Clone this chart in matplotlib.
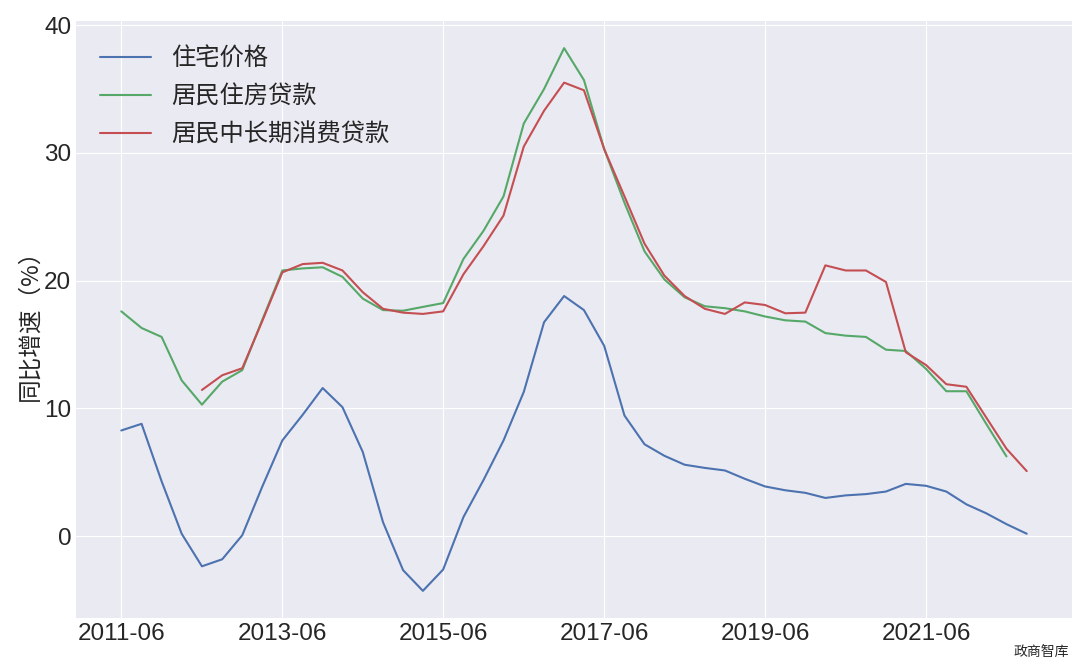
import matplotlib
matplotlib.use('Agg')
import matplotlib.pyplot as plt
import matplotlib.dates as mdates
import pandas as pd

# 季度数据，2011-06 至 2022-09
dates = pd.date_range('2011-06-01', periods=46, freq='3MS')

house_price = [8.28, 8.8, 4.3, 0.2, -2.35, -1.8, 0.08, 3.85, 7.5, 9.5,
               11.6, 10.1, 6.6, 1.1, -2.65, -4.27, -2.6, 1.5, 4.4, 7.5,
               11.3, 16.75, 18.8, 17.7, 14.9, 9.45, 7.2, 6.3, 5.6, 5.35,
               5.15, 4.5, 3.9, 3.6, 3.4, 3.0, 3.2, 3.3, 3.5, 4.1,
               3.95, 3.5, 2.5, 1.8, 0.95, 0.2]
# 居民住房贷款：到 2022-06
mortgage = [17.6, 16.3, 15.6, 12.2, 10.3, 12.1, 13.0, 16.9, 20.8, 20.96,
            21.05, 20.3, 18.6, 17.7, 17.65, 17.95, 18.25, 21.7, 23.9, 26.6,
            32.3, 35.0, 38.2, 35.7, 30.3, 26.1, 22.3, 20.1, 18.7, 18.0,
            17.85, 17.6, 17.2, 16.9, 16.8, 15.9, 15.7, 15.6, 14.6, 14.5,
            13.1, 11.35, 11.35, 8.8, 6.25]
# 居民中长期消费贷款：从 2012-06 开始
consumer_loan = [11.45, 12.6, 13.15, 16.8, 20.65, 21.3, 21.4, 20.8, 19.1, 17.8,
                 17.5, 17.4, 17.6, 20.5, 22.7, 25.1, 30.5, 33.3, 35.5, 34.9,
                 30.3, 26.6, 22.9, 20.4, 18.8, 17.8, 17.4, 18.3, 18.1, 17.45,
                 17.5, 21.2, 20.8, 20.8, 19.9, 14.4, 13.4, 11.9, 11.7, 9.3,
                 6.85, 5.1]

plt.style.use('seaborn-v0_8-darkgrid')
plt.rcParams['font.family'] = ['Liberation Sans', 'Noto Sans CJK SC', 'DejaVu Sans']

fig = plt.figure(figsize=(10.8, 6.64), dpi=100)
ax = fig.add_axes([0.0704, 0.0693, 0.9222, 0.8991])

ax.plot(dates, house_price, color='#4C72B0', lw=1.5, label='住宅价格')
ax.plot(dates[:len(mortgage)], mortgage, color='#55A868', lw=1.5, label='居民住房贷款')
ax.plot(dates[len(dates) - len(consumer_loan):], consumer_loan, color='#C44E52', lw=1.5,
        label='居民中长期消费贷款')

ax.set_xticks(dates[::8])
ax.xaxis.set_major_formatter(mdates.DateFormatter('%Y-%m'))
ax.set_yticks([0, 10, 20, 30, 40])
ax.tick_params(labelsize=17.5)
ax.set_ylabel('同比增速（%）', fontsize=17, family=['Noto Sans CJK SC'], labelpad=2)

ax.legend(loc='upper left', prop={'family': 'Noto Sans CJK SC', 'size': 17.5},
          frameon=False, handlelength=2.1, borderaxespad=0.6)

fig.text(0.99, 0.008, '政商智库', ha='right', va='bottom', fontsize=10,
         family=['Noto Sans CJK SC'])

fig.savefig('out.png', dpi=100)
